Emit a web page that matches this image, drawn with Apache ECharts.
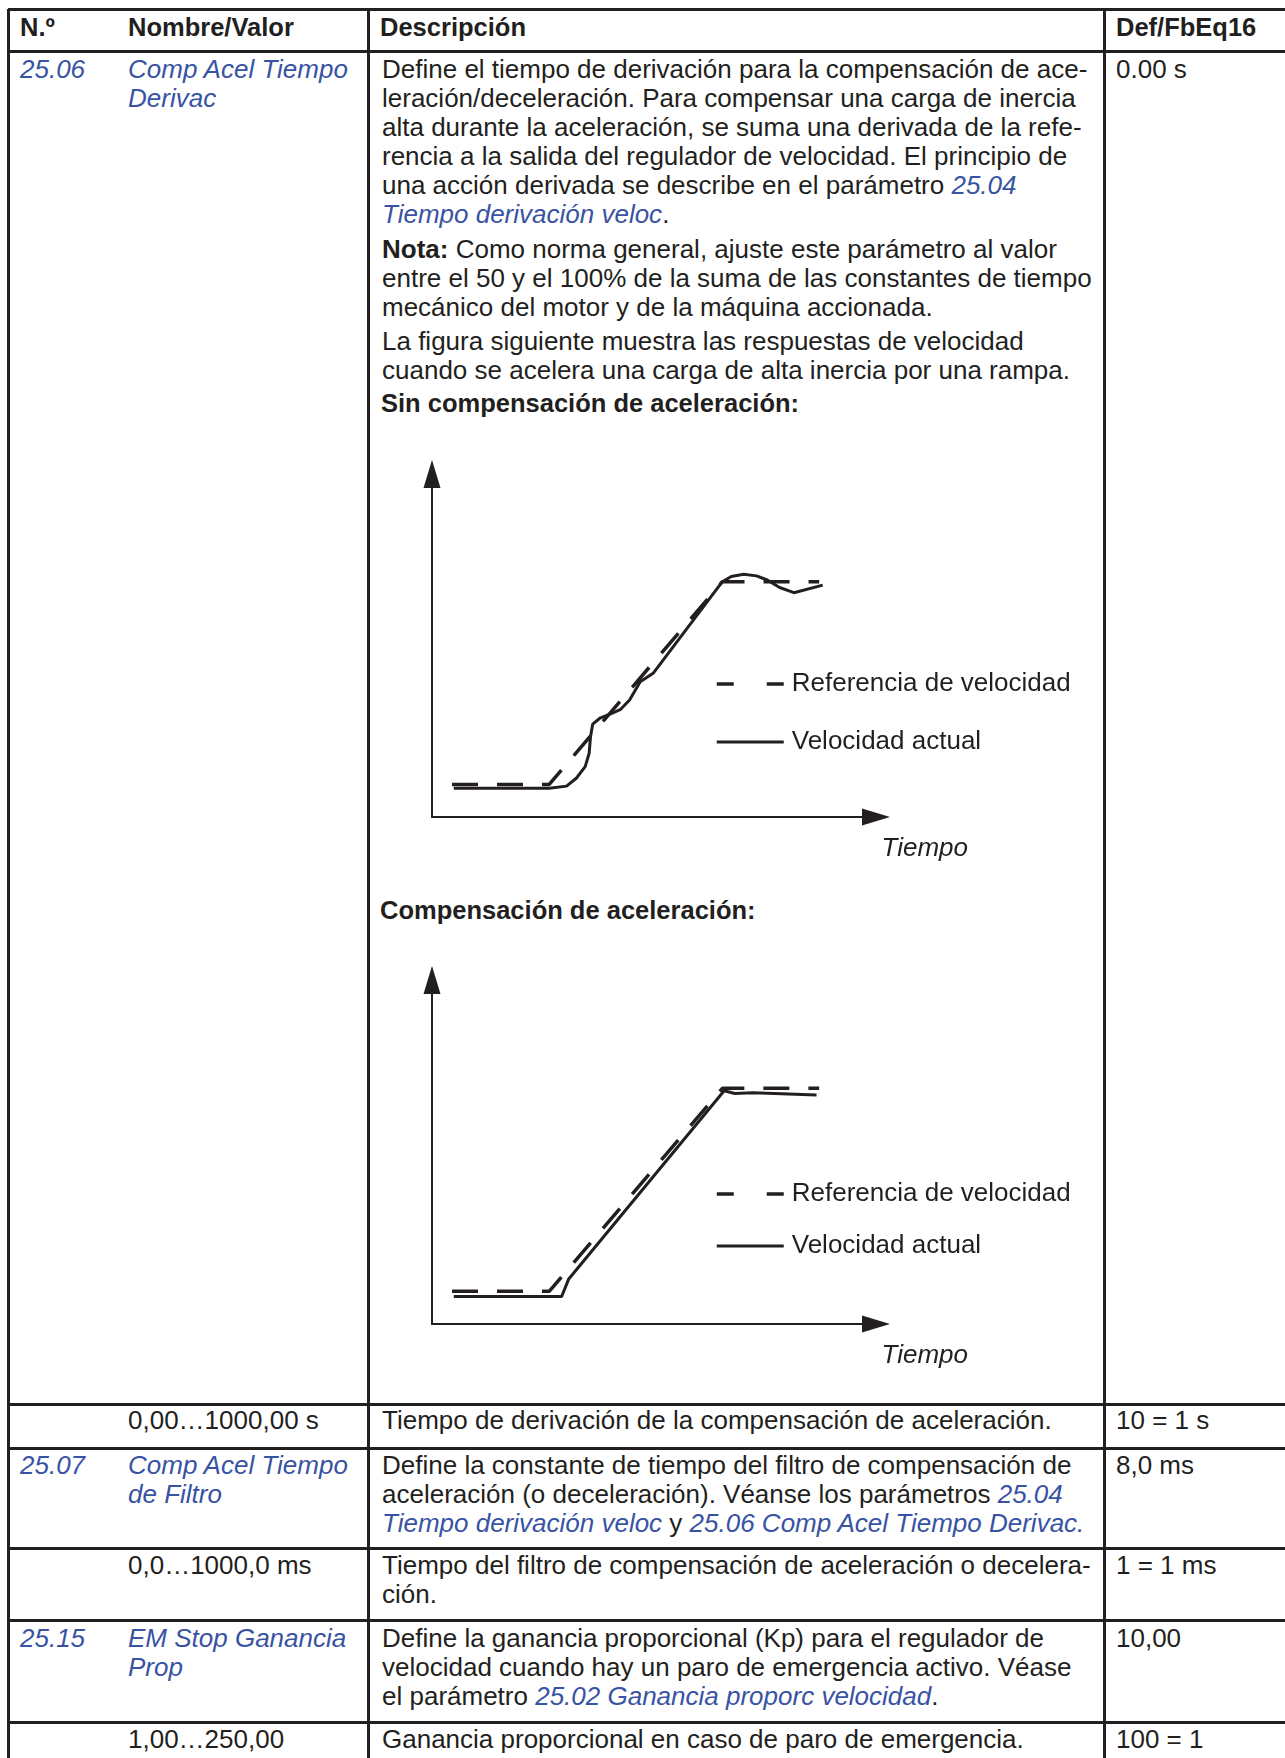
<!DOCTYPE html>
<html>
<head>
<meta charset="utf-8">
<script src="https://cdn.jsdelivr.net/npm/echarts@6/dist/echarts.min.js"></script>
<style>
    body { margin: 0; background: #ffffff; }
    .page { position: relative; width: 1285px; height: 1758px; overflow: hidden;
        font-family: "Liberation Sans", Arial, sans-serif; font-size: 26px; line-height: 29px; color: #231f20; }
    .t { position: absolute; white-space: nowrap; }
    .b { font-weight: bold; font-size: 25.5px; }
    .lk { color: #3853a4; font-style: italic; }
    .h { position: absolute; left: 8px; right: 0; height: 2.5px; background: #231f20; }
    .v { position: absolute; top: 9px; bottom: 0; width: 2.5px; background: #231f20; }
    .chart { position: absolute; left: 372px; width: 720px; height: 460px; }
</style>
</head>
<body>
<div class="page">
    <!-- rejilla de la tabla -->
    <div class="h" style="top:8px;height:3px"></div>
    <div class="h" style="top:50px"></div>
    <div class="h" style="top:1403px"></div>
    <div class="h" style="top:1447px"></div>
    <div class="h" style="top:1547px"></div>
    <div class="h" style="top:1619px"></div>
    <div class="h" style="top:1721px"></div>
    <div class="v" style="left:7px"></div>
    <div class="v" style="left:367px"></div>
    <div class="v" style="left:1103px"></div>

    <!-- cabecera -->
    <div class="t b" style="left:20px;top:13px">N.º</div>
    <div class="t b" style="left:128px;top:13px">Nombre/Valor</div>
    <div class="t b" style="left:380px;top:13px">Descripción</div>
    <div class="t b" style="left:1116px;top:13px">Def/FbEq16</div>

    <!-- 25.06 -->
    <div class="t lk" style="left:20px;top:54.5px">25.06</div>
    <div class="t lk" style="left:128px;top:54.5px">Comp Acel Tiempo<br>Derivac</div>
    <div class="t" style="left:1116px;top:54.5px">0.00 s</div>
    <div class="t" style="left:382px;top:54.5px">Define el tiempo de derivación para la compensación de ace-<br>leración/deceleración. Para compensar una carga de inercia<br>alta durante la aceleración, se suma una derivada de la refe-<br>rencia a la salida del regulador de velocidad. El principio de<br>una acción derivada se describe en el parámetro <span class="lk">25.04</span><br><span class="lk">Tiempo derivación veloc</span>.</div>
    <div class="t" style="left:382px;top:234.5px"><b>Nota:</b> Como norma general, ajuste este parámetro al valor<br>entre el 50 y el 100% de la suma de las constantes de tiempo<br>mecánico del motor y de la máquina accionada.</div>
    <div class="t" style="left:382px;top:326.5px">La figura siguiente muestra las respuestas de velocidad<br>cuando se acelera una carga de alta inercia por una rampa.</div>
    <div class="t b" style="left:381px;top:388.7px">Sin compensación de aceleración:</div>
    <div id="chartSin" class="chart" style="top:430px"></div>
    <div class="t b" style="left:380px;top:896px">Compensación de aceleración:</div>
    <div id="chartCon" class="chart" style="top:936px"></div>

    <div class="t" style="left:128px;top:1405.5px">0,00…1000,00 s</div>
    <div class="t" style="left:382px;top:1405.5px">Tiempo de derivación de la compensación de aceleración.</div>
    <div class="t" style="left:1116px;top:1405.5px">10 = 1 s</div>

    <!-- 25.07 -->
    <div class="t lk" style="left:20px;top:1450.5px">25.07</div>
    <div class="t lk" style="left:128px;top:1450.5px">Comp Acel Tiempo<br>de Filtro</div>
    <div class="t" style="left:382px;top:1450.5px">Define la constante de tiempo del filtro de compensación de<br>aceleración (o deceleración). Véanse los parámetros <span class="lk">25.04</span><br><span class="lk">Tiempo derivación veloc</span> y <span class="lk">25.06 Comp Acel Tiempo Derivac.</span></div>
    <div class="t" style="left:1116px;top:1450.5px">8,0 ms</div>

    <div class="t" style="left:128px;top:1551px">0,0…1000,0 ms</div>
    <div class="t" style="left:382px;top:1551px">Tiempo del filtro de compensación de aceleración o decelera-<br>ción.</div>
    <div class="t" style="left:1116px;top:1551px">1 = 1 ms</div>

    <!-- 25.15 -->
    <div class="t lk" style="left:20px;top:1623.5px">25.15</div>
    <div class="t lk" style="left:128px;top:1623.5px">EM Stop Ganancia<br>Prop</div>
    <div class="t" style="left:382px;top:1623.5px">Define la ganancia proporcional (Kp) para el regulador de<br>velocidad cuando hay un paro de emergencia activo. Véase<br>el parámetro <span class="lk">25.02 Ganancia proporc velocidad</span>.</div>
    <div class="t" style="left:1116px;top:1623.5px">10,00</div>

    <div class="t" style="left:128px;top:1724.5px">1,00…250,00</div>
    <div class="t" style="left:382px;top:1724.5px">Ganancia proporcional en caso de paro de emergencia.</div>
    <div class="t" style="left:1116px;top:1724.5px">100 = 1</div>
</div>

<script>
    // Sin compensación: referencia (discontinua) y velocidad actual
    const sinRefT = [4.5, 26.4, 65.4, 87.2]
    const sinRefV = [9.5, 9.5, 68.6, 68.6]
    const sinActT = [4.9, 26.4, 30.3, 32.5, 34.5, 35.4, 35.7, 36.2, 37.8, 40.1, 42.5, 44.5, 46.9, 49.8, 65.4, 67.4, 70.2, 73.1, 75.5, 78.3, 81.5, 88.0]
    const sinActV = [8.4, 8.4, 9.0, 11.3, 14.7, 18.6, 23.4, 27.1, 28.8, 30.0, 31.4, 34.1, 39.4, 41.9, 68.6, 70.1, 70.8, 70.3, 69.1, 66.9, 65.4, 67.6]
    // Compensación de aceleración
    const conRefT = [4.5, 26.4, 65.4, 87.2]
    const conRefV = [9.5, 9.5, 68.5, 68.5]
    const conActT = [4.9, 29.2, 30.8, 65.8, 68.2, 72.3, 86.6]
    const conActV = [8.0, 8.0, 13.1, 67.8, 67.0, 67.2, 66.6]

    const ink = '#231f20'
    const refName = 'Referencia de velocidad'
    const actName = 'Velocidad actual'

    function pairs(t, v) {
        return t.map((x, i) => [x, v[i]])
    }

    function axis(extra) {
        return Object.assign({
            type: 'value',
            min: 0,
            max: 100,
            axisLine: {
                show: true,
                symbol: ['none', 'triangle'],
                symbolSize: [17, 28],
                lineStyle: {color: ink, width: 2}
            },
            axisTick: {show: false},
            axisLabel: {show: false},
            splitLine: {show: false}
        }, extra)
    }

    function drawChart(el, refData, actData, gridH, legendTop, legendGap) {
        let chart = echarts.init(document.getElementById(el))
        chart.setOption({
            animation: false,
            grid: {left: 60, top: 44, width: 444, height: gridH},
            legend: {
                orient: 'vertical',
                left: 338,
                top: legendTop,
                itemWidth: 67,
                itemHeight: 14,
                itemGap: legendGap,
                selectedMode: false,
                itemStyle: {opacity: 0},
                lineStyle: {width: 3, color: ink},
                textStyle: {fontFamily: 'Liberation Sans', fontSize: 26, color: ink, padding: [0, 0, 0, 3]},
                data: [
                    {name: refName, lineStyle: {type: [17, 33], width: 3.5, color: ink}, itemStyle: {opacity: 0}},
                    {name: actName, lineStyle: {type: 'solid', width: 3, color: ink}, itemStyle: {opacity: 0}}
                ]
            },
            xAxis: axis({
                name: 'Tiempo',
                nameLocation: 'end',
                nameGap: 5.5,
                nameTextStyle: {
                    fontFamily: 'Liberation Sans', fontSize: 26, fontStyle: 'italic', color: ink,
                    align: 'left', verticalAlign: 'top', padding: [18.5, 0, 0, 0]
                }
            }),
            yAxis: axis({}),
            series: [
                {
                    name: refName,
                    type: 'line',
                    data: refData,
                    symbol: 'none',
                    itemStyle: {color: ink},
                    lineStyle: {color: ink, width: 3.5, type: [26, 19]}
                },
                {
                    name: actName,
                    type: 'line',
                    data: actData,
                    symbol: 'none',
                    itemStyle: {color: ink},
                    lineStyle: {color: ink, width: 3}
                }
            ]
        })
    }

    drawChart('chartSin', pairs(sinRefT, sinRefV), pairs(sinActT, sinActV), 343, 236, 32)
    drawChart('chartCon', pairs(conRefT, conRefV), pairs(conActT, conActV), 344, 240, 26)
</script>
</body>
</html>
